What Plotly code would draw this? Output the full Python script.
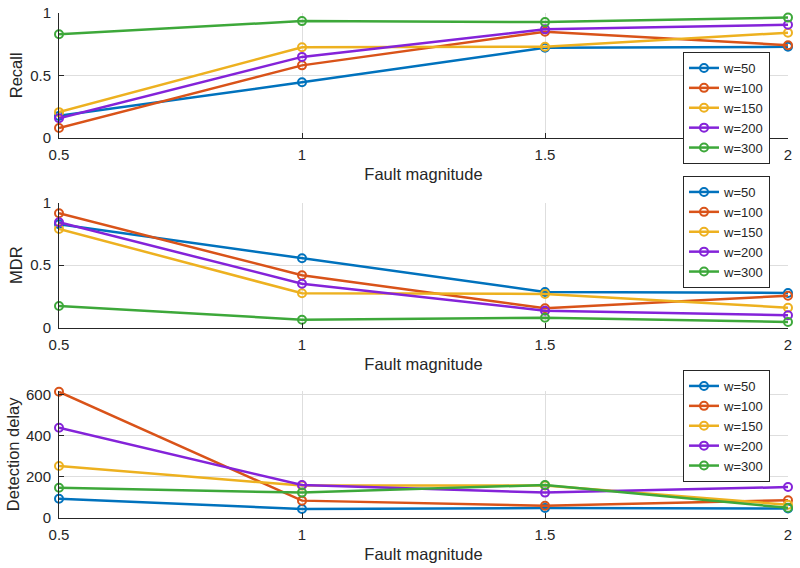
import plotly.graph_objects as go

fault = [0.5, 1, 1.5, 2]
series_names = ["w=50", "w=100", "w=150", "w=200", "w=300"]
colors = ["#0072BD", "#D95319", "#EDB120", "#8423D9", "#3DA83A"]

recall_w50 = [0.175, 0.444, 0.721, 0.729]
recall_w100 = [0.078, 0.580, 0.850, 0.742]
recall_w150 = [0.205, 0.726, 0.729, 0.842]
recall_w200 = [0.156, 0.648, 0.869, 0.906]
recall_w300 = [0.830, 0.935, 0.927, 0.963]

mdr_w50 = [0.827, 0.555, 0.286, 0.278]
mdr_w100 = [0.915, 0.419, 0.155, 0.256]
mdr_w150 = [0.790, 0.275, 0.270, 0.160]
mdr_w200 = [0.843, 0.352, 0.136, 0.099]
mdr_w300 = [0.174, 0.064, 0.080, 0.046]

delay_w50 = [92, 42, 47, 45]
delay_w100 = [612, 83, 58, 85]
delay_w150 = [251, 156, 157, 63]
delay_w200 = [437, 159, 122, 149]
delay_w300 = [146, 122, 159, 48]

recall = [recall_w50, recall_w100, recall_w150, recall_w200, recall_w300]
mdr = [mdr_w50, mdr_w100, mdr_w150, mdr_w200, mdr_w300]
delay = [delay_w50, delay_w100, delay_w150, delay_w200, delay_w300]

FONT = "Liberation Sans, Arial, Helvetica, sans-serif"
TXT = "#262626"
W, H = 800, 568

fig = go.Figure()
panels = [(recall, "", "legend"),
          (mdr, "2", "legend2"),
          (delay, "3", "legend3")]
for data, ax, leg in panels:
    for name, vals, col in zip(series_names, data, colors):
        fig.add_trace(go.Scatter(
            x=fault, y=vals, name=name, mode="lines+markers",
            xaxis="x" + ax, yaxis="y" + ax, legend=leg,
            line=dict(color=col, width=2.5),
            marker=dict(symbol="circle-open", size=8, color=col,
                        line=dict(width=2, color=col)),
            cliponaxis=False))

def py(pix):
    return 1 - pix / H

doms = [(137.7, 13.0), (327.7, 202.7), (517.7, 391.0)]
yranges = [[0, 1], [0, 1], [0, 616]]
ytickvals = [[0, 0.5, 1], [0, 0.5, 1], [0, 200, 400, 600]]
yticktext = [["0", "0.5", "1"], ["0", "0.5", "1"], ["0", "200", "400", "600"]]
ytitles = ["Recall", "MDR", "Detection delay"]
ystandoffs = [3, 3, 2]
legtops = [52, 176, 370]

axis_common = dict(showline=True, linecolor=TXT, linewidth=1, ticks="inside",
                   ticklen=5, tickcolor=TXT, showgrid=True, gridcolor="#dedede",
                   gridwidth=1, zeroline=False, mirror=False, automargin=False,
                   tickfont=dict(family=FONT, size=15, color=TXT))
layout = dict(width=W, height=H, margin=dict(l=0, r=0, t=0, b=0, autoexpand=False),
              paper_bgcolor="white", plot_bgcolor="white", showlegend=True,
              font=dict(family=FONT, color=TXT))
for i in range(3):
    s = "" if i == 0 else str(i + 1)
    b, t = doms[i]
    layout["xaxis" + s] = dict(axis_common, domain=[59 / W, 788 / W], range=[0.5, 2],
                               anchor="y" + s, tickvals=fault,
                               ticktext=["0.5", "1", "1.5", "2"],
                               ticklabelstandoff=3,
                               title=dict(text="Fault magnitude", standoff=6,
                                          font=dict(family=FONT, size=16.5, color=TXT)))
    layout["yaxis" + s] = dict(axis_common, domain=[py(b), py(t)], range=yranges[i],
                               anchor="x" + s, tickvals=ytickvals[i], ticktext=yticktext[i],
                               ticklabelstandoff=4,
                               title=dict(text=ytitles[i], standoff=ystandoffs[i],
                                          font=dict(family=FONT, size=16.5, color=TXT)))
    layout["legend" + s] = dict(
        x=683 / W, y=py(legtops[i]), xanchor="left", yanchor="top",
        bgcolor="white", bordercolor=TXT, borderwidth=1,
        font=dict(family=FONT, size=13, color=TXT), tracegroupgap=0,
        itemwidth=30)
fig.update_layout(**layout)
fig.write_html("out.html")
